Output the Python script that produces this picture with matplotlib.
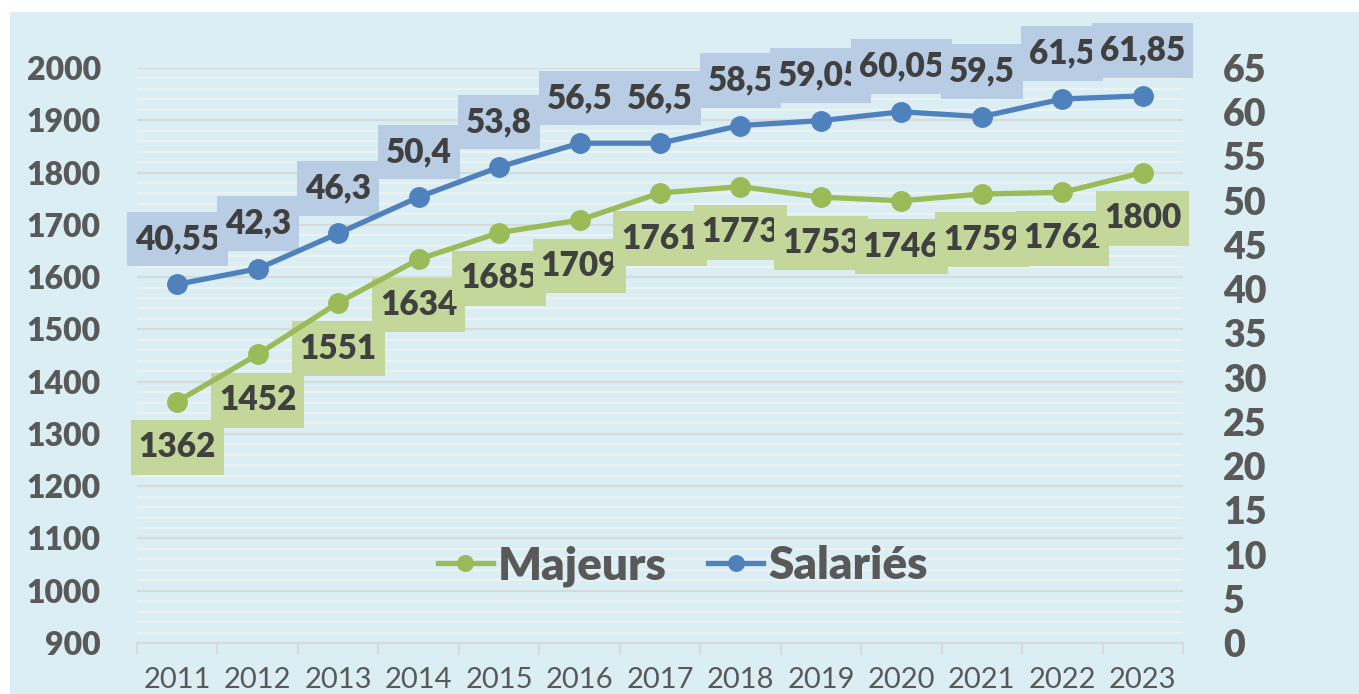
import matplotlib.pyplot as plt
from matplotlib.patches import Rectangle
from matplotlib.path import Path
from matplotlib.ticker import MultipleLocator, FixedLocator

years = ["2011", "2012", "2013", "2014", "2015", "2016", "2017",
         "2018", "2019", "2020", "2021", "2022", "2023"]
majeurs = [1362, 1452, 1551, 1634, 1685, 1709, 1761, 1773, 1753, 1746, 1759, 1762, 1800]
salaries = [40.55, 42.3, 46.3, 50.4, 53.8, 56.5, 56.5, 58.5, 59.05, 60.05, 59.5, 61.5, 61.85]

GREEN = "#9BBB59"
BLUE = "#4F81BD"
GREEN_BOX = "#C4D79B"
BLUE_BOX = "#B8CCE4"
TXT = "#404040"
TICK = "#595959"
BG = "#DAEEF3"

plt.rcParams["font.family"] = ["Lato", "DejaVu Sans"]


def label_box(x0, y0, width, height, mutation_size):
    # rectangle with more padding top/bottom than left/right
    px = 0.24 * mutation_size
    py = 0.34 * mutation_size
    x1, y1 = x0 - px, y0 - py
    x2, y2 = x0 + width + px, y0 + height + py
    return Path([(x1, y1), (x2, y1), (x2, y2), (x1, y2), (x1, y1)], closed=True)


W, H = 1359, 694
fig = plt.figure(figsize=(W / 100, H / 100), dpi=100, facecolor="white")
fig.patches.append(Rectangle((10 / W, 0), 1, 1 - 12 / H, transform=fig.transFigure,
                             facecolor=BG, edgecolor="none", zorder=-10))

ax = fig.add_axes([137 / W, 1 - 643 / H, (1183 - 137) / W, (643 - 68) / H])
ax.set_facecolor("none")
x = list(range(len(years)))

# left axis: Majeurs
ax.set_xlim(-0.5, len(years) - 0.5)
ax.set_ylim(900, 2000)
ax.yaxis.set_major_locator(MultipleLocator(100))
ax.yaxis.set_minor_locator(MultipleLocator(20))
ax.grid(axis="y", which="minor", color="#F2F2F2", lw=1.1, zorder=0)
ax.grid(axis="y", which="major", color="#D9D9D9", lw=1.5, zorder=0)
ax.set_axisbelow(True)
for s in ["top", "left", "right"]:
    ax.spines[s].set_visible(False)
ax.spines["bottom"].set_color("#D9D9D9")
ax.spines["bottom"].set_linewidth(1.5)

ax.set_xticks(x)
ax.set_xticklabels(years)
ax.xaxis.set_minor_locator(FixedLocator([i - 0.5 for i in range(len(years) + 1)]))
ax.tick_params(axis="x", which="major", length=0, pad=17, labelsize=21, labelcolor=TICK)
ax.tick_params(axis="x", which="minor", length=8, width=1.5, color="#D9D9D9")
ax.tick_params(axis="y", which="both", length=0)
ax.tick_params(axis="y", which="major", pad=26, labelsize=23, labelcolor=TICK)
for lab in ax.get_yticklabels():
    lab.set_fontweight("heavy")

ax.plot(x, majeurs, color=GREEN, lw=3.8, marker="o", ms=14, zorder=4, label="Majeurs")
for xi, v in zip(x, majeurs):
    ax.annotate(str(v), (xi, v), xytext=(0, -33), textcoords="offset points",
                ha="center", va="center", fontsize=24, fontweight="heavy", color=TXT,
                bbox=dict(boxstyle=label_box, fc=GREEN_BOX, ec="none"), zorder=3)

# right axis: Salariés
ax2 = ax.twinx()
ax2.set_ylim(0, 65)
ax2.yaxis.set_major_locator(MultipleLocator(5))
for s in ax2.spines.values():
    s.set_visible(False)
ax2.tick_params(axis="y", length=0, pad=29, labelsize=27, labelcolor=TICK)
for lab in ax2.get_yticklabels():
    lab.set_fontweight("heavy")

ax2.plot(x, salaries, color=BLUE, lw=3.8, marker="o", ms=14, zorder=4, label="Salariés")
for xi, v in zip(x, salaries):
    txt = f"{v:g}".replace(".", ",")
    ax2.annotate(txt, (xi, v), xytext=(0, 32.5), textcoords="offset points",
                 ha="center", va="center", fontsize=24, fontweight="heavy", color=TXT,
                 bbox=dict(boxstyle=label_box, fc=BLUE_BOX, ec="none"), zorder=3)

h1, l1 = ax.get_legend_handles_labels()
h2, l2 = ax2.get_legend_handles_labels()
leg = fig.legend(h1 + h2, l1 + l2, loc="center", bbox_to_anchor=(683 / W, 1 - 566 / H),
                 ncol=2, frameon=False, handlelength=1.2, handletextpad=0.12,
                 columnspacing=0.9, markerscale=0.8,
                 prop={"size": 33, "weight": "heavy"})
for t in leg.get_texts():
    t.set_color(TICK)

fig.savefig("out.png", dpi=100)
